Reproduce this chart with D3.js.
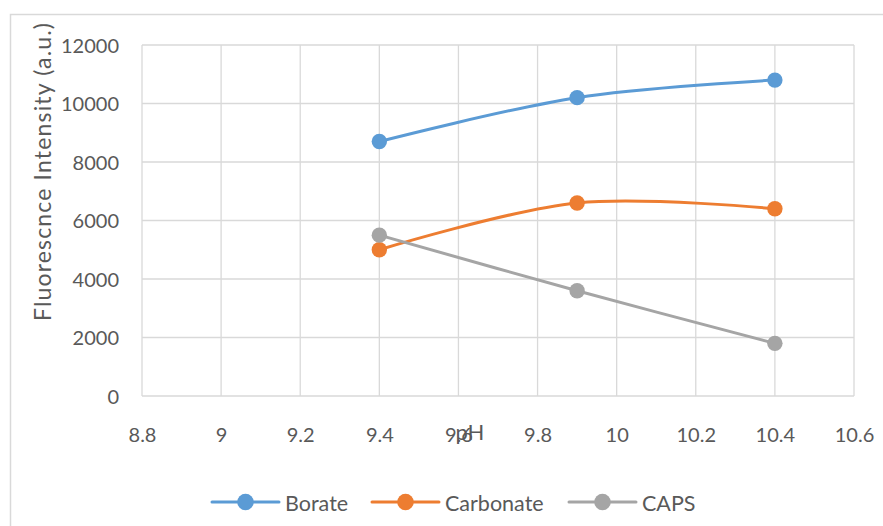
<!DOCTYPE html>
<html><head><meta charset="utf-8">
<script src="https://cdn.jsdelivr.net/npm/d3@7"></script>
<style>body{margin:0;background:#fff}svg{display:block}text{font-family:Lato,"Open Sans",sans-serif}</style>
</head><body>
<script>
const phValues = [9.4, 9.9, 10.4];
const seriesNames = ["Borate", "Carbonate", "CAPS"];
const borate = [8700, 10200, 10800];
const carbonate = [5000, 6600, 6400];
const caps = [5500, 3600, 1800];
const seriesColors = ["#5B9BD5", "#ED7D31", "#A5A5A5"];
const xTicks = [8.8, 9, 9.2, 9.4, 9.6, 9.8, 10, 10.2, 10.4, 10.6];
const yTicks = [0, 2000, 4000, 6000, 8000, 10000, 12000];
const xTitle = "pH";
const yTitle = "Fluorescnce Intensity (a.u.)";

const W = 883, H = 526;
const svg = d3.select("body").append("svg").attr("width", W).attr("height", H);
// chart border (extends past window)
svg.append("rect").attr("x", 10.5).attr("y", 14.5).attr("width", 900).attr("height", 600)
  .attr("fill", "#fff").attr("stroke", "#d9d9d9").attr("stroke-width", 1.5);

const L = 142, R = 854, T = 45, B = 396;
const x = d3.scaleLinear().domain([8.8, 10.6]).range([L, R]);
const y = d3.scaleLinear().domain([0, 12000]).range([B, T]);

const g = svg.append("g");
g.selectAll(".vg").data(xTicks).enter().append("line")
  .attr("x1", d => x(d)).attr("x2", d => x(d)).attr("y1", T).attr("y2", B)
  .attr("stroke", "#d9d9d9").attr("stroke-width", 1.3);
g.selectAll(".hg").data(yTicks).enter().append("line")
  .attr("x1", L).attr("x2", R).attr("y1", d => y(d)).attr("y2", d => y(d))
  .attr("stroke", "#d9d9d9").attr("stroke-width", 1.3);

const xAxis = d3.axisBottom(x).tickValues(xTicks).tickSize(0).tickPadding(0).tickFormat(d => String(+d.toFixed(1)));
const xa = svg.append("g").attr("transform", `translate(0,${B})`).call(xAxis);
xa.select(".domain").remove();
xa.selectAll("text").attr("y", 39).attr("dy", "0.35em").attr("font-size", 20).attr("fill", "#595959")
  .attr("font-family", "Lato, sans-serif");

const yAxis = d3.axisLeft(y).tickValues(yTicks).tickSize(0).tickPadding(0).tickFormat(d3.format("d"));
const ya = svg.append("g").attr("transform", `translate(${L},0)`).call(yAxis);
ya.select(".domain").remove();
ya.selectAll("text").attr("x", -23).attr("dy", "0.35em").attr("font-size", 20).attr("fill", "#595959")
  .attr("font-family", "Lato, sans-serif");

svg.append("text").attr("x", 470).attr("y", 432).attr("dy", "0.35em").attr("text-anchor", "middle")
  .attr("font-size", 22).attr("fill", "#595959").text(xTitle);
svg.append("text").attr("transform", "translate(43,172) rotate(-90)").attr("dy", "0.35em").attr("text-anchor", "middle")
  .attr("font-size", 23).attr("fill", "#595959")
  .attr("textLength", 298).attr("lengthAdjust", "spacing").text(yTitle);

const allSeries = [borate, carbonate, caps];
const line = d3.line().x((d, i) => x(phValues[i])).y(d => y(d)).curve(d3.curveCatmullRom.alpha(0.5));
allSeries.forEach((s, k) => {
  svg.append("path").attr("d", line(s)).attr("fill", "none")
    .attr("stroke", seriesColors[k]).attr("stroke-width", 3).attr("stroke-linecap", "round");
});
allSeries.forEach((s, k) => {
  svg.selectAll(null).data(s).enter().append("circle")
    .attr("cx", (d, i) => x(phValues[i])).attr("cy", d => y(d)).attr("r", 7.7)
    .attr("fill", seriesColors[k]);
});

const legX = [212, 372, 569];
const ly = 502;
seriesNames.forEach((n, k) => {
  const lg = svg.append("g");
  lg.append("line").attr("x1", legX[k]).attr("x2", legX[k] + 67).attr("y1", ly).attr("y2", ly)
    .attr("stroke", seriesColors[k]).attr("stroke-width", 3).attr("stroke-linecap", "round");
  lg.append("circle").attr("cx", legX[k] + 33.5).attr("cy", ly).attr("r", 8.3).attr("fill", seriesColors[k]);
  lg.append("text").attr("x", legX[k] + 73).attr("y", ly + 1).attr("dy", "0.35em")
    .attr("font-size", 21.5).attr("fill", "#595959").text(n);
});
</script>
</body></html>
